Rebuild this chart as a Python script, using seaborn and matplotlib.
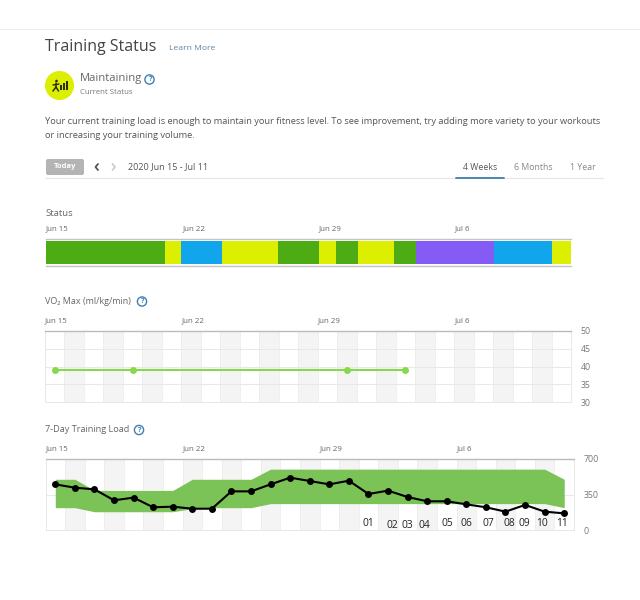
import matplotlib
matplotlib.use("Agg")
import matplotlib.pyplot as plt
from matplotlib.patches import Circle, FancyBboxPatch, Rectangle
import numpy as np
import pandas as pd
import seaborn as sns

# values
week_labels = ["Jun 15", "Jun 22", "Jun 29", "Jul 6"]
week_ticks = [-0.5, 6.5, 13.5, 20.5]

status_lengths = [6.1, 0.85, 2.1, 2.9, 2.1, 0.87, 1.13, 1.85, 1.13, 4.0, 3.0, 1.0]
status_names = ["g", "y", "b", "y", "g", "y", "g", "y", "g", "p", "b", "y"]
status_colors = {"g": "#4dab14", "y": "#dcef00", "b": "#11a5ec", "p": "#845bf5"}

vo2_days = [0, 4, 15, 18]
vo2_values = [39, 39, 39, 39]
vo2_ticks = [30, 35, 40, 45, 50]

load_days = list(range(27))
load_values = [450, 417, 401, 293, 319, 224, 230, 210, 210, 381, 381, 450, 516, 483,
               450, 486, 355, 388, 325, 283, 283, 253, 224, 181, 247, 181, 164]
band_upper = [500, 500, 390, 390, 390, 390, 390, 500, 500, 500, 500, 600, 600, 600,
              600, 600, 600, 600, 600, 600, 600, 600, 600, 600, 600, 600, 500]
band_lower = [220, 220, 180, 180, 180, 180, 180, 210, 220, 220, 220, 260, 260, 260,
              260, 260, 260, 260, 260, 260, 260, 260, 260, 260, 260, 260, 220]
load_ticks = [0, 350, 700]

# hand written day numbers on the load chart
note_labels = ["01", "02", "03", "04", "05", "06", "07", "08", "09", "10", "11"]
note_x = [368, 392, 407, 424, 447, 466, 488, 509, 524, 542, 562]
note_y = [524, 525, 525, 525, 524, 524, 524, 524, 524, 523, 523]

sns.set_style("white")
plt.rcParams["font.family"] = ["Open Sans", "DejaVu Sans"]

TEXT = "#555555"
LIGHT = "#e8e8e8"
BLUE = "#3f7fb5"

fig = plt.figure(figsize=(6.4, 6.0), dpi=100)


def axes_px(x0, y0, x1, y1):
    return fig.add_axes([x0 / 640, 1 - y1 / 600, (x1 - x0) / 640, (y1 - y0) / 600])


def week_axis(ax):
    ax.set_xlim(-0.5, 26.5)
    ax.xaxis.tick_top()
    ax.set_xticks(week_ticks, week_labels, ha="left", fontsize=5.7, color="#666666")
    ax.tick_params(axis="x", length=0, pad=5)
    ax.set_xlabel("")
    ax.set_ylabel("")


def day_grid(ax, h_ticks):
    for d in range(1, 26, 2):
        ax.axvspan(d - 0.5, d + 0.5, color="#f4f4f4", lw=0, zorder=0)
    for d in range(27):
        ax.axvline(d + 0.5, color="#ececec", lw=0.6, zorder=0.5)
    for t in h_ticks:
        ax.axhline(t, color=LIGHT, lw=0.7, zorder=0.5)
    ax.yaxis.tick_right()
    ax.tick_params(axis="y", length=0, pad=7, labelsize=6.3, labelcolor="#777777")
    for side in ["left", "right", "bottom"]:
        ax.spines[side].set_color(LIGHT)
        ax.spines[side].set_linewidth(0.7)
    ax.spines["top"].set_color("#bbbbbb")
    ax.spines["top"].set_linewidth(1)


# status strip
ax1 = axes_px(46, 239, 571, 266)
left = -0.5
for length, name in zip(status_lengths, status_names):
    ax1.barh(0, length, left=left, height=1, color=status_colors[name], lw=0)
    left += length
ax1.set_ylim(-0.58, 0.58)
week_axis(ax1)
ax1.set_yticks([])
for side in ["left", "right"]:
    ax1.spines[side].set_visible(False)
for side in ["top", "bottom"]:
    ax1.spines[side].set_color("#c4c4c4")
    ax1.spines[side].set_linewidth(1)

# VO2 max
ax2 = axes_px(45, 331, 571, 402)
day_grid(ax2, vo2_ticks[1:-1])
vo2_df = pd.DataFrame({"day": vo2_days, "vo2": vo2_values})
sns.lineplot(data=vo2_df, x="day", y="vo2", ax=ax2, color="#86d94c", lw=1.5,
             marker="o", markersize=5, markeredgewidth=0, errorbar=None, zorder=3)
ax2.set_ylim(30, 50)
ax2.set_yticks(vo2_ticks)
week_axis(ax2)

# training load
ax3 = axes_px(45.5, 459, 574, 530)
day_grid(ax3, load_ticks[1:-1])
ax3.fill_between(load_days, band_lower, band_upper, color="#7bc356", lw=0, zorder=2)
load_df = pd.DataFrame({"day": load_days, "load": load_values})
sns.lineplot(data=load_df, x="day", y="load", ax=ax3, color="black", lw=1.5,
             marker="o", markersize=5, markeredgewidth=0, errorbar=None, zorder=3)
ax3.set_ylim(0, 700)
ax3.set_yticks(load_ticks)
week_axis(ax3)

# page furniture goes on a pixel overlay
ov = fig.add_axes([0, 0, 1, 1], facecolor="none")
ov.set_xlim(0, 640)
ov.set_ylim(600, 0)
ov.axis("off")


def label(x, y, s, size, color=TEXT, ha="left", **kw):
    ov.text(x, y, s, fontsize=size, color=color, ha=ha, va="center", **kw)


def help_icon(x, y):
    ov.add_patch(Circle((x, y), 4.6, fill=False, ec=BLUE, lw=1))
    label(x, y, "?", 5.2, color=BLUE, ha="center", fontweight="bold")


ov.plot([0, 640], [29, 29], color="#eeeeee", lw=0.8)
label(45, 47, "Training Status", 11.5, color="#444444")
label(169, 49, "Learn More", 6.1, color="#5c86a8")

ov.add_patch(Circle((59.5, 85.5), 14.5, color="#dcef00", lw=0))
for bx, bh in zip([60, 63, 66], [5, 7, 9]):
    ov.add_patch(Rectangle((bx, 90 - bh), 2, bh, color="#2c2c10", lw=0))
ov.add_patch(Circle((56.5, 81), 1.3, color="#2c2c10", lw=0))
ov.plot([56, 56, 53], [83, 87, 91], color="#2c2c10", lw=1.1)
ov.plot([56, 58.5], [87, 91], color="#2c2c10", lw=1.1)
ov.plot([53, 59], [85, 84], color="#2c2c10", lw=1)

label(80, 79, "Maintaining", 8.1, color="#666666")
help_icon(149.5, 79.5)
label(80, 93, "Current Status", 5.6, color="#777777")

label(45, 121, "Your current training load is enough to maintain your fitness level. To see "
      "improvement, try adding more variety to your workouts", 6.67)
label(45, 135, "or increasing your training volume.", 6.67)

ov.add_patch(FancyBboxPatch((46, 159), 38, 16, boxstyle="round,pad=0,rounding_size=2",
                            color="#b4b4b4", lw=0))
label(65, 167, "Today", 5.4, color="white", ha="center", fontweight="bold")
ov.plot([98, 95.5, 98], [164, 167, 170], color="#555555", lw=1.3)
ov.plot([112.5, 115, 112.5], [164, 167, 170], color="#cccccc", lw=1.3)
label(128, 167, "2020 Jun 15 - Jul 11", 6.45)

ov.plot([45, 603], [178, 178], color="#e6e6e6", lw=0.8)
ov.plot([456, 504], [177.5, 177.5], color="#3f7fa5", lw=1.3)
label(463, 167, "4 Weeks", 6.3, color="#555555")
label(514, 167, "6 Months", 6.3, color="#888888")
label(570, 167, "1 Year", 6.3, color="#888888")

label(45, 213, "Status", 6.8, color="#666666")
label(45, 301, "VO\u2082 Max (ml/kg/min)", 6.5, color="#666666")
help_icon(142, 301.5)
label(45, 430, "7-Day Training Load", 6.6, color="#666666")
help_icon(139, 430)

for s, x, y in zip(note_labels, note_x, note_y):
    label(x, y, s, 7.4, color="#222222", ha="center")

fig.savefig("out.png", dpi=100)
